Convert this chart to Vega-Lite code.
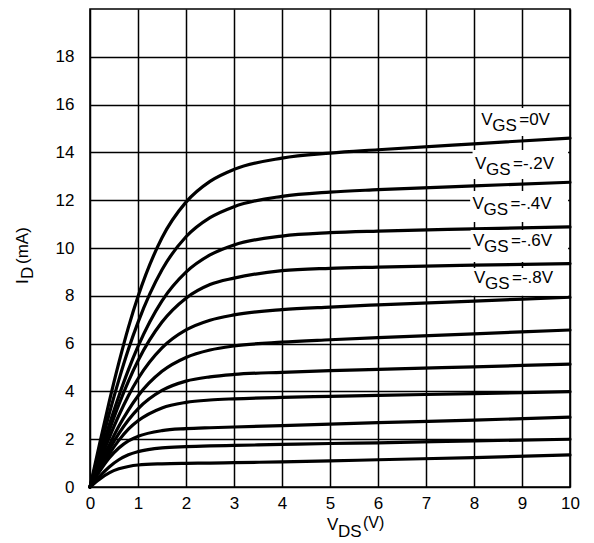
{
  "$schema": "https://vega.github.io/schema/vega-lite/v6.json",
  "width": 480,
  "height": 478,
  "autosize": {"type": "none"},
  "padding": {"left": 90, "top": 9, "right": 24, "bottom": 56},
  "background": "white",
  "config": {
    "font": "Liberation Sans",
    "view": {"stroke": "black", "strokeWidth": 1.6},
    "axis": {
      "grid": true,
      "gridColor": "black",
      "gridOpacity": 1,
      "gridWidth": 1.5,
      "domain": false,
      "ticks": false,
      "tickSize": 0,
      "labelFont": "Liberation Sans",
      "labelFontSize": 17,
      "labelColor": "black",
      "labelFlush": false
    },
    "text": {"font": "Liberation Sans", "color": "black"}
  },
  "datasets": {
    "curves": [
      {"vgs": "0", "v": 0, "i": 0}, {"vgs": "0", "v": 0.2, "i": 1.81}, {"vgs": "0", "v": 0.4, "i": 3.56}, {"vgs": "0", "v": 0.6, "i": 5.19}, {"vgs": "0", "v": 0.8, "i": 6.68}, {"vgs": "0", "v": 1, "i": 7.97}, {"vgs": "0", "v": 1.5, "i": 10.43}, {"vgs": "0", "v": 2, "i": 11.92}, {"vgs": "0", "v": 2.5, "i": 12.79}, {"vgs": "0", "v": 3, "i": 13.29}, {"vgs": "0", "v": 4, "i": 13.76}, {"vgs": "0", "v": 5, "i": 13.97}, {"vgs": "0", "v": 6, "i": 14.11}, {"vgs": "0", "v": 8, "i": 14.36}, {"vgs": "0", "v": 10, "i": 14.6},
      {"vgs": "-0.2", "v": 0, "i": 0}, {"vgs": "-0.2", "v": 0.2, "i": 1.56}, {"vgs": "-0.2", "v": 0.4, "i": 3.06}, {"vgs": "-0.2", "v": 0.6, "i": 4.47}, {"vgs": "-0.2", "v": 0.8, "i": 5.76}, {"vgs": "-0.2", "v": 1, "i": 6.89}, {"vgs": "-0.2", "v": 1.5, "i": 9.09}, {"vgs": "-0.2", "v": 2, "i": 10.47}, {"vgs": "-0.2", "v": 2.5, "i": 11.27}, {"vgs": "-0.2", "v": 3, "i": 11.73}, {"vgs": "-0.2", "v": 4, "i": 12.16}, {"vgs": "-0.2", "v": 5, "i": 12.34}, {"vgs": "-0.2", "v": 6, "i": 12.44}, {"vgs": "-0.2", "v": 8, "i": 12.6}, {"vgs": "-0.2", "v": 10, "i": 12.75},
      {"vgs": "-0.4", "v": 0, "i": 0}, {"vgs": "-0.4", "v": 0.2, "i": 1.32}, {"vgs": "-0.4", "v": 0.4, "i": 2.6}, {"vgs": "-0.4", "v": 0.6, "i": 3.8}, {"vgs": "-0.4", "v": 0.8, "i": 4.9}, {"vgs": "-0.4", "v": 1, "i": 5.88}, {"vgs": "-0.4", "v": 1.5, "i": 7.79}, {"vgs": "-0.4", "v": 2, "i": 8.99}, {"vgs": "-0.4", "v": 2.5, "i": 9.71}, {"vgs": "-0.4", "v": 3, "i": 10.13}, {"vgs": "-0.4", "v": 4, "i": 10.5}, {"vgs": "-0.4", "v": 5, "i": 10.64}, {"vgs": "-0.4", "v": 6, "i": 10.71}, {"vgs": "-0.4", "v": 8, "i": 10.8}, {"vgs": "-0.4", "v": 10, "i": 10.88},
      {"vgs": "-0.6", "v": 0, "i": 0}, {"vgs": "-0.6", "v": 0.2, "i": 1.2}, {"vgs": "-0.6", "v": 0.4, "i": 2.36}, {"vgs": "-0.6", "v": 0.6, "i": 3.44}, {"vgs": "-0.6", "v": 0.8, "i": 4.42}, {"vgs": "-0.6", "v": 1, "i": 5.28}, {"vgs": "-0.6", "v": 1.5, "i": 6.9}, {"vgs": "-0.6", "v": 2, "i": 7.9}, {"vgs": "-0.6", "v": 2.5, "i": 8.47}, {"vgs": "-0.6", "v": 3, "i": 8.74}, {"vgs": "-0.6", "v": 4, "i": 9.05}, {"vgs": "-0.6", "v": 5, "i": 9.15}, {"vgs": "-0.6", "v": 6, "i": 9.2}, {"vgs": "-0.6", "v": 8, "i": 9.28}, {"vgs": "-0.6", "v": 10, "i": 9.35},
      {"vgs": "-0.8", "v": 0, "i": 0}, {"vgs": "-0.8", "v": 0.2, "i": 1.05}, {"vgs": "-0.8", "v": 0.4, "i": 2.06}, {"vgs": "-0.8", "v": 0.6, "i": 2.99}, {"vgs": "-0.8", "v": 0.8, "i": 3.82}, {"vgs": "-0.8", "v": 1, "i": 4.53}, {"vgs": "-0.8", "v": 1.5, "i": 5.82}, {"vgs": "-0.8", "v": 2, "i": 6.57}, {"vgs": "-0.8", "v": 2.5, "i": 6.98}, {"vgs": "-0.8", "v": 3, "i": 7.2}, {"vgs": "-0.8", "v": 4, "i": 7.42}, {"vgs": "-0.8", "v": 5, "i": 7.53}, {"vgs": "-0.8", "v": 6, "i": 7.62}, {"vgs": "-0.8", "v": 8, "i": 7.78}, {"vgs": "-0.8", "v": 10, "i": 7.94},
      {"vgs": "-1.0", "v": 0, "i": 0}, {"vgs": "-1.0", "v": 0.2, "i": 0.9}, {"vgs": "-1.0", "v": 0.4, "i": 1.75}, {"vgs": "-1.0", "v": 0.6, "i": 2.54}, {"vgs": "-1.0", "v": 0.8, "i": 3.22}, {"vgs": "-1.0", "v": 1, "i": 3.81}, {"vgs": "-1.0", "v": 1.5, "i": 4.84}, {"vgs": "-1.0", "v": 2, "i": 5.42}, {"vgs": "-1.0", "v": 2.5, "i": 5.73}, {"vgs": "-1.0", "v": 3, "i": 5.9}, {"vgs": "-1.0", "v": 4, "i": 6.06}, {"vgs": "-1.0", "v": 5, "i": 6.16}, {"vgs": "-1.0", "v": 6, "i": 6.25}, {"vgs": "-1.0", "v": 8, "i": 6.41}, {"vgs": "-1.0", "v": 10, "i": 6.57},
      {"vgs": "-1.2", "v": 0, "i": 0}, {"vgs": "-1.2", "v": 0.2, "i": 0.8}, {"vgs": "-1.2", "v": 0.4, "i": 1.56}, {"vgs": "-1.2", "v": 0.6, "i": 2.23}, {"vgs": "-1.2", "v": 0.8, "i": 2.8}, {"vgs": "-1.2", "v": 1, "i": 3.27}, {"vgs": "-1.2", "v": 1.5, "i": 4.04}, {"vgs": "-1.2", "v": 2, "i": 4.43}, {"vgs": "-1.2", "v": 2.5, "i": 4.61}, {"vgs": "-1.2", "v": 3, "i": 4.71}, {"vgs": "-1.2", "v": 4, "i": 4.8}, {"vgs": "-1.2", "v": 5, "i": 4.87}, {"vgs": "-1.2", "v": 6, "i": 4.92}, {"vgs": "-1.2", "v": 8, "i": 5.03}, {"vgs": "-1.2", "v": 10, "i": 5.14},
      {"vgs": "-1.4", "v": 0, "i": 0}, {"vgs": "-1.4", "v": 0.2, "i": 0.72}, {"vgs": "-1.4", "v": 0.4, "i": 1.38}, {"vgs": "-1.4", "v": 0.6, "i": 1.95}, {"vgs": "-1.4", "v": 0.8, "i": 2.42}, {"vgs": "-1.4", "v": 1, "i": 2.77}, {"vgs": "-1.4", "v": 1.5, "i": 3.31}, {"vgs": "-1.4", "v": 2, "i": 3.54}, {"vgs": "-1.4", "v": 2.5, "i": 3.64}, {"vgs": "-1.4", "v": 3, "i": 3.69}, {"vgs": "-1.4", "v": 4, "i": 3.75}, {"vgs": "-1.4", "v": 5, "i": 3.79}, {"vgs": "-1.4", "v": 6, "i": 3.83}, {"vgs": "-1.4", "v": 8, "i": 3.91}, {"vgs": "-1.4", "v": 10, "i": 3.99},
      {"vgs": "-1.6", "v": 0, "i": 0}, {"vgs": "-1.6", "v": 0.2, "i": 0.65}, {"vgs": "-1.6", "v": 0.4, "i": 1.21}, {"vgs": "-1.6", "v": 0.6, "i": 1.63}, {"vgs": "-1.6", "v": 0.8, "i": 1.93}, {"vgs": "-1.6", "v": 1, "i": 2.12}, {"vgs": "-1.6", "v": 1.5, "i": 2.36}, {"vgs": "-1.6", "v": 2, "i": 2.44}, {"vgs": "-1.6", "v": 2.5, "i": 2.48}, {"vgs": "-1.6", "v": 3, "i": 2.51}, {"vgs": "-1.6", "v": 4, "i": 2.57}, {"vgs": "-1.6", "v": 5, "i": 2.63}, {"vgs": "-1.6", "v": 6, "i": 2.69}, {"vgs": "-1.6", "v": 8, "i": 2.8}, {"vgs": "-1.6", "v": 10, "i": 2.92},
      {"vgs": "-1.8", "v": 0, "i": 0}, {"vgs": "-1.8", "v": 0.2, "i": 0.45}, {"vgs": "-1.8", "v": 0.4, "i": 0.84}, {"vgs": "-1.8", "v": 0.6, "i": 1.14}, {"vgs": "-1.8", "v": 0.8, "i": 1.35}, {"vgs": "-1.8", "v": 1, "i": 1.48}, {"vgs": "-1.8", "v": 1.5, "i": 1.64}, {"vgs": "-1.8", "v": 2, "i": 1.69}, {"vgs": "-1.8", "v": 2.5, "i": 1.72}, {"vgs": "-1.8", "v": 3, "i": 1.74}, {"vgs": "-1.8", "v": 4, "i": 1.78}, {"vgs": "-1.8", "v": 5, "i": 1.82}, {"vgs": "-1.8", "v": 6, "i": 1.85}, {"vgs": "-1.8", "v": 8, "i": 1.93}, {"vgs": "-1.8", "v": 10, "i": 2.0},
      {"vgs": "-2.0", "v": 0, "i": 0}, {"vgs": "-2.0", "v": 0.2, "i": 0.33}, {"vgs": "-2.0", "v": 0.4, "i": 0.59}, {"vgs": "-2.0", "v": 0.6, "i": 0.76}, {"vgs": "-2.0", "v": 0.8, "i": 0.86}, {"vgs": "-2.0", "v": 1, "i": 0.92}, {"vgs": "-2.0", "v": 1.5, "i": 0.97}, {"vgs": "-2.0", "v": 2, "i": 0.99}, {"vgs": "-2.0", "v": 2.5, "i": 1.0}, {"vgs": "-2.0", "v": 3, "i": 1.02}, {"vgs": "-2.0", "v": 4, "i": 1.05}, {"vgs": "-2.0", "v": 5, "i": 1.09}, {"vgs": "-2.0", "v": 6, "i": 1.14}, {"vgs": "-2.0", "v": 8, "i": 1.23}, {"vgs": "-2.0", "v": 10, "i": 1.34}
    ],
    "labels": [
      {"tx": 8.15, "ty": 15.15, "bx": 8.1, "lo": 14.69, "hi": 15.86, "rest": "=0V"},
      {"tx": 8.02, "ty": 13.31, "bx": 7.97, "lo": 12.89, "hi": 14.1, "rest": "=-.2V"},
      {"tx": 7.97, "ty": 11.63, "bx": 7.92, "lo": 11.09, "hi": 12.38, "rest": "=-.4V"},
      {"tx": 7.98, "ty": 10.08, "bx": 7.93, "lo": 9.41, "hi": 10.75, "rest": "=-.6V"},
      {"tx": 8.0, "ty": 8.54, "bx": 7.95, "lo": 8.0, "hi": 9.16, "rest": "=-.8V"}
    ]
  },
  "encoding": {
    "x": {"type": "quantitative", "scale": {"domain": [0, 10], "nice": false, "zero": false}, "title": null},
    "y": {"type": "quantitative", "scale": {"domain": [0, 20], "nice": false}, "title": null}
  },
  "layer": [
    {
      "data": {"name": "curves"},
      "mark": {"type": "line", "interpolate": "monotone", "color": "black", "strokeWidth": 3.2, "strokeCap": "round", "strokeJoin": "round"},
      "encoding": {
        "x": {"field": "v", "type": "quantitative", "title": null,
              "axis": {"values": [0, 1, 2, 3, 4, 5, 6, 7, 8, 9, 10], "labelPadding": 8, "labelAngle": 0}},
        "y": {"field": "i", "type": "quantitative", "title": null,
              "axis": {"values": [0, 2, 4, 6, 8, 10, 12, 14, 16, 18], "labelPadding": 16}},
        "detail": {"field": "vgs", "type": "nominal"}
      }
    },
    {
      "data": {"name": "labels"},
      "mark": {"type": "rect", "fill": "white"},
      "encoding": {
        "x": {"field": "bx", "type": "quantitative", "title": null},
        "x2": {"datum": 9.96},
        "y": {"field": "lo", "type": "quantitative", "title": null},
        "y2": {"field": "hi"}
      }
    },
    {
      "data": {"name": "labels"},
      "mark": {"type": "text", "text": "V", "align": "left", "baseline": "alphabetic", "fontSize": 17},
      "encoding": {
        "x": {"field": "tx", "type": "quantitative", "title": null},
        "y": {"field": "ty", "type": "quantitative", "title": null}
      }
    },
    {
      "data": {"name": "labels"},
      "mark": {"type": "text", "text": "GS", "align": "left", "baseline": "alphabetic", "fontSize": 17, "dx": 11, "dy": 6},
      "encoding": {
        "x": {"field": "tx", "type": "quantitative", "title": null},
        "y": {"field": "ty", "type": "quantitative", "title": null}
      }
    },
    {
      "data": {"name": "labels"},
      "mark": {"type": "text", "align": "left", "baseline": "alphabetic", "fontSize": 17, "dx": 38},
      "encoding": {
        "x": {"field": "tx", "type": "quantitative", "title": null},
        "y": {"field": "ty", "type": "quantitative", "title": null},
        "text": {"field": "rest"}
      }
    },
    {
      "data": {"values": [{}]},
      "mark": {"type": "text", "text": "V", "align": "left", "baseline": "alphabetic", "fontSize": 17, "dx": -3, "dy": 43},
      "encoding": {"x": {"datum": 5, "type": "quantitative", "title": null}, "y": {"datum": 0, "type": "quantitative", "title": null}}
    },
    {
      "data": {"values": [{}]},
      "mark": {"type": "text", "text": "DS", "align": "left", "baseline": "alphabetic", "fontSize": 17, "dx": 8, "dy": 50},
      "encoding": {"x": {"datum": 5, "type": "quantitative", "title": null}, "y": {"datum": 0, "type": "quantitative", "title": null}}
    },
    {
      "data": {"values": [{}]},
      "mark": {"type": "text", "text": "(V)", "align": "left", "baseline": "alphabetic", "fontSize": 16, "dx": 33, "dy": 41},
      "encoding": {"x": {"datum": 5, "type": "quantitative", "title": null}, "y": {"datum": 0, "type": "quantitative", "title": null}}
    },
    {
      "data": {"values": [{}]},
      "mark": {"type": "text", "text": "I", "angle": 270, "align": "left", "baseline": "alphabetic", "fontSize": 17, "dx": -36, "dy": -62},
      "encoding": {"x": {"datum": 0, "type": "quantitative", "title": null}, "y": {"datum": 10, "type": "quantitative", "title": null}}
    },
    {
      "data": {"values": [{}]},
      "mark": {"type": "text", "text": "D", "angle": 270, "align": "left", "baseline": "alphabetic", "fontSize": 17, "dx": -31, "dy": -57},
      "encoding": {"x": {"datum": 0, "type": "quantitative", "title": null}, "y": {"datum": 10, "type": "quantitative", "title": null}}
    },
    {
      "data": {"values": [{}]},
      "mark": {"type": "text", "text": "(mA)", "angle": 270, "align": "left", "baseline": "alphabetic", "fontSize": 17, "dx": -16, "dy": -62},
      "encoding": {"x": {"datum": 0, "type": "quantitative", "title": null}, "y": {"datum": 10, "type": "quantitative", "title": null}}
    }
  ]
}
